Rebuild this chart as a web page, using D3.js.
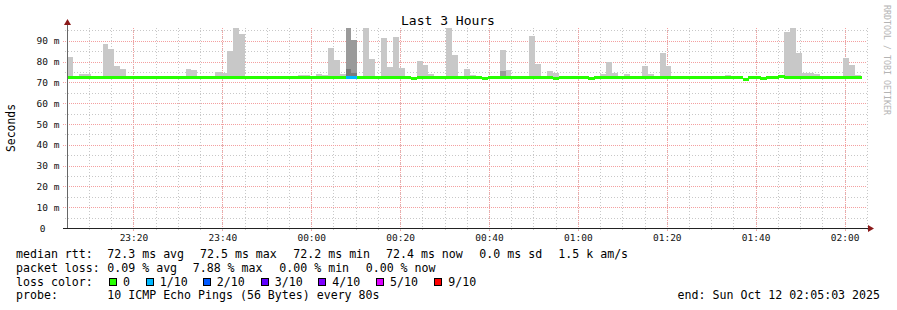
<!DOCTYPE html>
<html>
<head>
<meta charset="utf-8">
<script src="https://cdn.jsdelivr.net/npm/d3@7"></script>
<style>
body { margin: 0; background: #fff; }
svg { display: block; }
text { font-family: "DejaVu Sans Mono", monospace; white-space: pre; }
</style>
</head>
<body>
<script>
var outerWidth = 897,
    outerHeight = 310,
    plot = {left: 67, right: 867, top: 28, bottom: 228};

// time window, one step every 80 s
var start = new Date(2025, 9, 11, 23, 5, 3),
    end = new Date(2025, 9, 12, 2, 5, 3),
    stepSec = 80;

// median rtt per step (ms)
var median = [
  72.3,72.3,72.3,72.3,72.3,72.3,72.3,72.3,72.3,72.3, 72.3,72.3,72.3,72.3,72.3,72.3,72.3,72.3,72.3,72.3,
  72.3,72.3,72.3,72.3,72.3,72.3,72.3,72.3,72.3,72.3, 72.3,72.3,72.3,72.3,72.3,72.3,72.3,72.3,72.3,72.3,
  72.3,72.3,72.3,72.3,72.3,72.3,72.3,72.3,72.3,72.3, 72.3,72.3,72.3,72.3,72.3,72.3,72.3,72.3,71.8,72.3,
  72.3,72.3,72.3,72.3,72.3,72.3,72.3,72.3,72.3,72.3, 71.8,72.3,72.3,72.3,72.3,72.3,72.3,72.3,72.3,72.3,
  72.3,72.3,71.8,72.3,72.3,72.3,72.3,72.3,71.8,72.6, 72.3,72.3,72.3,72.3,72.3,72.3,72.3,72.3,72.3,72.3,
  72.3,72.3,72.3,72.3,72.3,72.3,72.3,72.3,72.3,72.3, 72.3,72.3,72.3,72.3,71.4,72.3,72.3,71.8,72.3,72.3,
  72.7,72.3,72.3,72.3,72.3,72.3,72.3,72.3,72.3,72.3, 72.3,72.3,72.3,72.4
];

// lost pings out of 10 per step
var loss = [
  0,0,0,0,0,0,0,0,0,0, 0,0,0,0,0,0,0,0,0,0, 0,0,0,0,0,0,0,0,0,0, 0,0,0,0,0,0,0,0,0,0,
  0,0,0,0,0,0,0,1,1,0, 0,0,0,0,0,0,0,0,0,0, 0,0,0,0,0,0,0,0,0,0, 0,0,0,0,0,0,0,0,0,0,
  0,0,0,0,0,0,0,0,0,0, 0,0,0,0,0,0,0,0,0,0, 0,0,0,0,0,0,0,0,0,0, 0,0,0,0,0,0,0,0,0,0,
  0,0,0,0,0,0,0,0,0,0, 0,0,0,0
];

// smoke: outer (light), middle and inner ping spread tops (ms), null = none
var smokeLight = [
  82.4,null,74.2,74.2,null,null,88.6,86.2,78.0,76.6, null,null,null,null,null,null,null,null,null,null,
  76.6,76.1,null,null,null,75.1,74.7,85.2,96.3,93.4, null,null,null,null,null,null,null,null,null,73.6,
  73.6,null,74.2,73.6,86.7,80.9,74.2,null,null,null, 96.3,81.4,null,91.5,77.5,92.0,77.0,null,null,80.4,
  78.5,74.2,null,null,96.3,83.3,null,76.6,73.6,null, null,null,null,85.7,76.1,null,null,null,92.5,79.0,
  null,75.6,74.7,null,null,null,null,null,null,null, 74.2,79.9,74.7,null,74.2,null,null,78.0,74.2,null,
  84.3,78.0,null,null,null,null,null,null,null,null, null,73.6,null,null,null,null,null,null,null,null,
  null,94.4,96.3,84.3,74.7,74.7,74.2,null,null,null, null,81.9,78.5,73.6
];
var smokeMid = [];
smokeMid[47] = 96.3; smokeMid[48] = 90.5; smokeMid[73] = 75.6;
var smokeDark = [];
smokeDark[47] = 76.6; smokeDark[48] = 74.7;

var yTicks = [0, 10, 20, 30, 40, 50, 60, 70, 80, 90];

var lossColors = ['#26ff00', '#00b8ff', '#0059ff', '#5e00ff', '#7e00ff', '#dd00ff', '#ff0000'],
    lossLabels = ['0', '1/10', '2/10', '3/10', '4/10', '5/10', '9/10'];

var rttStats = ['72.3 ms avg', '72.5 ms max', '72.2 ms min', '72.4 ms now', '0.0 ms sd', '1.5 k am/s'],
    lossStats = ['0.09 % avg', '7.88 % max', '0.00 % min', '0.00 % now'];

var svg = d3.select('body').append('svg')
    .attr('width', outerWidth)
    .attr('height', outerHeight);

svg.append('rect')
    .attr('width', outerWidth)
    .attr('height', outerHeight)
    .attr('fill', '#fff');

var x = d3.scaleTime().domain([start, end]).range([plot.left, plot.right]),
    y = d3.scaleLinear().domain([0, 96.2]).range([plot.bottom, plot.top]);

function stepTime(i) { return new Date(start.getTime() + i * stepSec * 1000); }

// grid
var grid = svg.append('g').attr('shape-rendering', 'crispEdges');

grid.selectAll('.hmin').data(d3.range(5, 96, 10)).enter().append('line')
    .attr('x1', plot.left - 2).attr('x2', plot.right)
    .attr('y1', d => Math.round(y(d)) + 0.5).attr('y2', d => Math.round(y(d)) + 0.5)
    .attr('stroke', '#c8c8c8').attr('stroke-dasharray', '1,2');

grid.selectAll('.vmin').data(x.ticks(d3.timeMinute.every(5))).enter().append('line')
    .attr('x1', d => Math.round(x(d)) + 0.5).attr('x2', d => Math.round(x(d)) + 0.5)
    .attr('y1', plot.top).attr('y2', plot.bottom + 2)
    .attr('stroke', '#c8c8c8').attr('stroke-dasharray', '1,2');

grid.selectAll('.hmaj').data(yTicks.slice(1)).enter().append('line')
    .attr('x1', plot.left - 4).attr('x2', plot.right)
    .attr('y1', d => Math.round(y(d)) + 0.5).attr('y2', d => Math.round(y(d)) + 0.5)
    .attr('stroke', '#f4a0a0').attr('stroke-dasharray', '1,1');

var majorTimes = x.ticks(d3.timeMinute.every(20));

grid.selectAll('.vmaj').data(majorTimes).enter().append('line')
    .attr('x1', d => Math.round(x(d)) + 0.5).attr('x2', d => Math.round(x(d)) + 0.5)
    .attr('y1', plot.top).attr('y2', plot.bottom + 4)
    .attr('stroke', '#f4a0a0').attr('stroke-dasharray', '1,1');

// smoke
var steps = d3.range(median.length);

function smokeLayer(tops, color) {
    svg.append('g').attr('shape-rendering', 'crispEdges')
        .selectAll('rect')
        .data(steps.filter(i => tops[i] != null))
        .enter().append('rect')
        .attr('x', i => x(stepTime(i)))
        .attr('width', i => x(stepTime(i + 1)) - x(stepTime(i)))
        .attr('y', i => y(tops[i]))
        .attr('height', i => y(median[i]) - y(tops[i]))
        .attr('fill', color);
}
smokeLayer(smokeLight, '#c8c8c8');
smokeLayer(smokeMid, '#9a9a9a');
smokeLayer(smokeDark, '#7a7a7a');

// median line coloured by loss
svg.append('g').attr('shape-rendering', 'crispEdges')
    .selectAll('rect')
    .data(steps)
    .enter().append('rect')
    .attr('x', i => x(stepTime(i)))
    .attr('width', i => x(stepTime(i + 1)) - x(stepTime(i)) + 0.5)
    .attr('y', i => Math.round(y(median[i]) - 1.5))
    .attr('height', 3)
    .attr('fill', i => lossColors[loss[i]]);

// axes
svg.append('line')
    .attr('x1', plot.left - 4).attr('x2', plot.right + 2)
    .attr('y1', plot.bottom + 0.5).attr('y2', plot.bottom + 0.5)
    .attr('stroke', '#222');
svg.append('line')
    .attr('x1', plot.left + 0.5).attr('x2', plot.left + 0.5)
    .attr('y1', plot.bottom).attr('y2', plot.top - 6)
    .attr('stroke', '#666');
svg.append('path')
    .attr('d', 'M' + (plot.left - 3) + ',' + (plot.top - 3) + 'L' + (plot.left + 0.5) + ',' + (plot.top - 9) + 'L' + (plot.left + 4) + ',' + (plot.top - 3) + 'Z')
    .attr('fill', '#8b1a1a');
svg.append('path')
    .attr('d', 'M' + (plot.right + 1) + ',' + (plot.bottom - 3) + 'L' + (plot.right + 7) + ',' + (plot.bottom + 0.5) + 'L' + (plot.right + 1) + ',' + (plot.bottom + 4) + 'Z')
    .attr('fill', '#8b1a1a');

// tick labels
svg.append('g').selectAll('text')
    .data(yTicks).enter().append('text')
    .attr('x', d => d === 0 ? 45.5 : 59.5)
    .attr('y', d => y(d) + 3.5)
    .attr('text-anchor', 'end')
    .attr('font-size', '9.5px')
    .attr('fill', '#111')
    .text(d => d === 0 ? '0' : d + ' m');

svg.append('g').selectAll('text')
    .data(majorTimes).enter().append('text')
    .attr('x', d => x(d) + 0.5)
    .attr('y', 240.5)
    .attr('text-anchor', 'middle')
    .attr('font-size', '9.5px')
    .attr('fill', '#111')
    .text(d3.timeFormat('%H:%M'));

// title and labels
svg.append('text')
    .attr('x', 448).attr('y', 24.5)
    .attr('text-anchor', 'middle')
    .attr('font-size', '13px')
    .text('Last 3 Hours');

svg.append('text')
    .attr('transform', 'translate(14.5,' + (plot.top + plot.bottom) / 2 + ') rotate(-90)')
    .attr('text-anchor', 'middle')
    .attr('font-size', '11.4px')
    .text('Seconds');

svg.append('text')
    .attr('transform', 'translate(884,5) rotate(90)')
    .attr('font-size', '9px')
    .attr('fill', '#b4b4b4')
    .attr('textLength', 110)
    .attr('lengthAdjust', 'spacingAndGlyphs')
    .text('RRDTOOL / TOBI OETIKER');

// legend
var legend = svg.append('g').attr('font-size', '11.6px').attr('fill', '#000');
var rowY = [258, 271.8, 285.6, 299.4],
    rttX = [107.3, 200, 293.3, 386, 479.3, 558.3],
    lossX = [107.3, 192.7, 279.3, 365.7],
    boxX = [109, 145.7, 202.7, 260.7, 318.3, 376, 434.3];

legend.append('text').attr('x', 16).attr('y', rowY[0]).text('median rtt:');
legend.selectAll('.rtt').data(rttStats).enter().append('text')
    .attr('x', (d, i) => rttX[i]).attr('y', rowY[0]).text(d => d);

legend.append('text').attr('x', 16).attr('y', rowY[1]).text('packet loss:');
legend.selectAll('.pl').data(lossStats).enter().append('text')
    .attr('x', (d, i) => lossX[i]).attr('y', rowY[1]).text(d => d);

legend.append('text').attr('x', 16).attr('y', rowY[2]).text('loss color:');
var keys = legend.selectAll('.key').data(lossLabels).enter().append('g');
keys.append('rect')
    .attr('x', (d, i) => boxX[i] + 0.5).attr('y', 278.5)
    .attr('width', 7).attr('height', 7)
    .attr('fill', (d, i) => lossColors[i])
    .attr('stroke', '#000').attr('stroke-width', 1)
    .attr('shape-rendering', 'crispEdges');
keys.append('text')
    .attr('x', (d, i) => boxX[i] + 14).attr('y', rowY[2]).text(d => d);

legend.append('text').attr('x', 16).attr('y', rowY[3]).text('probe:');
legend.append('text').attr('x', 107.3).attr('y', rowY[3]).text('10 ICMP Echo Pings (56 Bytes) every 80s');
legend.append('text').attr('x', 880).attr('y', rowY[3]).attr('text-anchor', 'end').text('end: Sun Oct 12 02:05:03 2025');
</script>
</body>
</html>
